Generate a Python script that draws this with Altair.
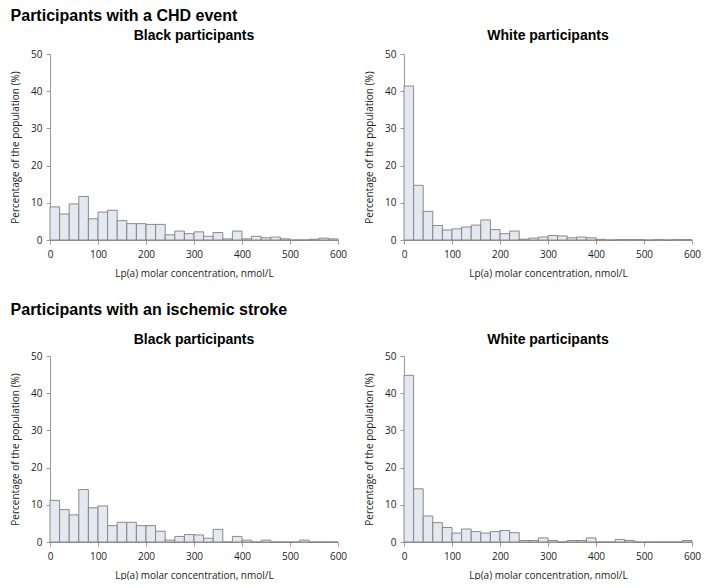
import altair as alt
import pandas as pd

# Bin starts (nmol/L), bin width 20
bin_start = list(range(0, 600, 20))
bin_width = 20
x_ticks = [0, 100, 200, 300, 400, 500, 600]
y_ticks = [0, 10, 20, 30, 40, 50]

# Percentage of the population per bin
chd_black = [8.9, 7.0, 9.7, 11.7, 5.7, 7.5, 8.0, 5.2, 4.4, 4.4,
             4.2, 4.2, 1.4, 2.4, 1.7, 2.2, 1.0, 2.0, 0.3, 2.4,
             0.3, 1.0, 0.6, 0.8, 0.3, 0.0, 0.0, 0.2, 0.5, 0.3]
chd_white = [41.4, 14.7, 7.7, 3.9, 2.7, 3.0, 3.5, 4.0, 5.4, 2.8,
             1.7, 2.4, 0.2, 0.5, 0.8, 1.2, 1.1, 0.6, 0.8, 0.6,
             0.2, 0.0, 0.1, 0.1, 0.1, 0.0, 0.1, 0.0, 0.1, 0.1]
stroke_black = [11.2, 8.7, 7.3, 14.1, 9.2, 9.7, 4.4, 5.3, 5.3, 4.4,
                4.4, 2.9, 0.5, 1.5, 2.0, 1.9, 1.0, 3.4, 0.0, 1.5,
                0.5, 0.0, 0.5, 0.0, 0.0, 0.0, 0.5, 0.0, 0.0, 0.0]
stroke_white = [44.8, 14.3, 7.0, 5.2, 3.9, 2.4, 3.5, 2.8, 2.4, 2.8,
                3.1, 2.5, 0.4, 0.4, 1.1, 0.4, 0.0, 0.4, 0.4, 1.1,
                0.0, 0.0, 0.7, 0.4, 0.0, 0.0, 0.0, 0.0, 0.0, 0.4]

section_titles = ["Participants with a CHD event", "Participants with an ischemic stroke"]
panel_titles = ["Black participants", "White participants"]
x_title = "Lp(a) molar concentration, nmol/L"
y_title = "Percentage of the population (%)"

TITLE_FONT = "Liberation Sans"
AXIS_FONT = "Open Sans"


def panel(values, title, title_offset):
    df = pd.DataFrame({
        "start": bin_start,
        "end": [b + bin_width for b in bin_start],
        "pct": values,
    })
    return alt.Chart(df).mark_bar(
        fill="#e4e8f0", stroke="#7f7f7f", strokeWidth=0.9
    ).encode(
        x=alt.X("start:Q",
                scale=alt.Scale(domain=[0, 600], nice=False, zero=False),
                axis=alt.Axis(values=x_ticks, title=x_title, format="d")),
        x2="end:Q",
        y=alt.Y("pct:Q",
                scale=alt.Scale(domain=[0, 50], nice=False),
                axis=alt.Axis(values=y_ticks, title=y_title, format="d")),
        y2=alt.datum(0),
    ).properties(
        width=288, height=186,
        title=alt.TitleParams(title, font=TITLE_FONT, fontSize=14,
                              fontWeight="bold", anchor="middle",
                              offset=title_offset, color="#000"),
    )


def row(vals_left, vals_right, section, section_offset, panel_offset):
    return alt.hconcat(
        panel(vals_left, panel_titles[0], panel_offset),
        panel(vals_right, panel_titles[1], panel_offset),
        spacing=17,
    ).properties(
        title=alt.TitleParams(section, font=TITLE_FONT, fontSize=16,
                              fontWeight="bold", anchor="start",
                              offset=section_offset, color="#000"))


chart = alt.vconcat(
    row(chd_black, chd_white, section_titles[0], 5, 6),
    row(stroke_black, stroke_white, section_titles[1], 15, 4),
    spacing=24,
).properties(
    padding={"left": 2, "top": 0, "right": 0, "bottom": 0}
).configure_view(stroke=None).configure_axis(
    grid=False,
    domainColor="#999999",
    tickColor="#999999",
    tickSize=4,
    labelFont=AXIS_FONT,
    labelFontSize=10,
    labelColor="#222222",
    labelPadding=4,
    titleFont=AXIS_FONT,
    titleFontSize=10,
    titleFontWeight="normal",
    titleColor="#222222",
    titlePadding=10,
    titleLimit=400,
).configure_axisX(labelFlush=False, labelPadding=5, titlePadding=9)

chart.save("out.html", embed_options={"renderer": "svg", "actions": False})
